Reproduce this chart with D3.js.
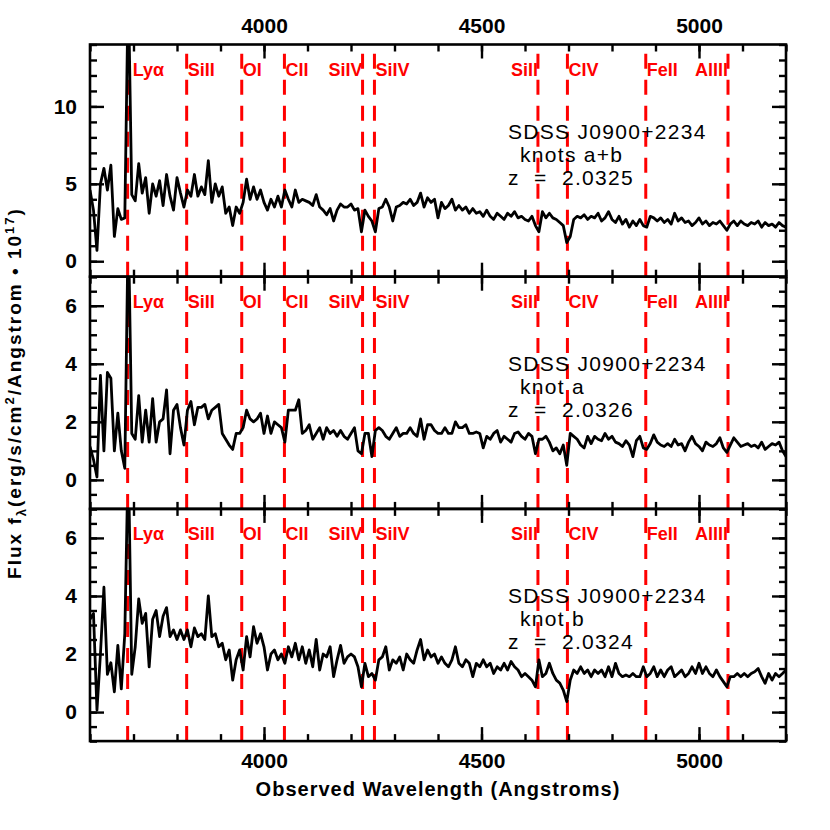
<!DOCTYPE html>
<html>
<head>
<meta charset="utf-8">
<script src="https://cdn.jsdelivr.net/npm/d3@7"></script>
<style>
  body { margin: 0; background: #fff; }
  text { font-family: "Liberation Sans", Arial, sans-serif; }
</style>
</head>
<body>
<svg id="chart" width="830" height="830"></svg>
<script>
// spectra sampled every 8 Angstrom starting at 3600
const waveStart = 3600;
const waveStep = 8;

const fluxAB = [4.6,3.3,0.7,5.0,6.0,4.6,6.2,1.6,3.4,2.7,2.8,18,4.3,3.9,6.3,4.4,5.4,3.1,5.0,4.2,
  5.2,3.6,5.6,4.2,3.3,5.4,4.4,3.5,4.6,4.2,5.6,4.2,4.8,4.3,6.5,3.8,5.0,4.2,4.8,3.1,
  3.5,2.3,3.5,3.1,3.8,5.3,4.0,4.8,4.0,4.6,3.8,3.3,4.0,3.5,4.2,3.5,4.6,4.0,3.5,4.6,
  3.8,4.0,3.9,3.8,3.6,4.3,3.5,3.3,3.0,3.4,2.6,3.3,3.7,3.5,3.5,3.7,3.3,3.4,1.9,3.3,
  2.9,2.6,1.9,3.4,3.5,4.0,3.5,2.6,3.5,3.6,3.8,3.7,4.0,3.6,3.8,4.4,3.5,4.1,3.8,4.0,
  2.8,3.8,3.4,3.6,4.0,3.3,3.6,3.3,3.5,3.1,3.4,3.1,3.2,2.9,3.3,2.9,2.7,3.1,2.9,2.7,
  3.1,2.9,3.2,2.8,2.9,2.7,2.6,2.9,2.3,1.9,3.2,2.8,3.1,2.8,2.7,2.5,2.3,1.2,1.6,2.7,
  2.9,2.8,3.0,2.7,2.9,2.8,3.1,2.6,2.8,3.2,2.7,2.5,2.9,2.4,2.7,2.2,2.6,2.3,2.7,2.3,
  2.2,2.9,2.8,2.6,2.8,2.5,2.7,2.4,3.1,2.6,2.8,2.5,2.6,2.3,2.5,2.8,2.4,2.6,2.3,2.5,
  2.4,2.6,2.3,2.0,2.4,2.6,2.3,2.6,2.4,2.3,2.5,2.4,2.6,2.2,2.5,2.3,2.4,2.2,2.5,2.3,2.2];

const fluxA = [1.15,0.7,0.1,3.6,1.0,3.7,3.5,1.0,2.3,1.0,0.4,9,1.6,1.4,2.9,1.3,2.4,1.3,2.8,1.3,
  2.0,2.1,3.1,0.9,2.4,2.6,1.8,1.2,2.4,2.7,1.9,2.5,2.5,2.6,2.1,2.4,2.5,2.6,1.6,1.4,
  1.2,1.05,1.6,1.6,1.8,2.4,2.1,2.0,2.1,2.3,1.6,2.2,1.6,2.0,1.9,1.8,1.3,2.4,2.4,2.4,
  2.76,1.6,1.7,1.9,1.4,1.6,1.8,1.4,1.8,1.6,1.7,1.5,1.7,1.5,1.4,1.6,1.8,1.0,0.9,1.6,
  1.6,0.8,1.7,1.8,1.7,1.5,1.4,1.6,1.8,1.5,1.6,1.6,1.8,1.6,1.5,2.1,1.4,1.9,1.9,1.7,
  1.6,1.6,1.8,1.6,1.6,2.0,1.8,1.8,1.9,1.6,1.6,1.65,1.6,1.1,1.5,1.4,1.6,1.7,1.3,1.5,
  1.4,1.3,1.6,1.65,1.5,1.4,1.6,1.5,0.9,1.4,1.4,1.5,1.3,1.0,1.1,0.9,1.2,0.5,1.6,1.5,
  1.4,1.2,1.1,1.5,1.25,1.5,1.4,1.35,1.6,1.4,1.5,1.3,1.25,1.15,1.35,1.2,0.8,1.35,1.5,1.1,
  1.05,1.25,1.55,1.3,1.2,1.15,1.25,1.15,1.4,1.2,1.25,1.0,1.3,1.5,1.25,1.15,1.0,1.3,1.2,1.15,
  1.25,1.45,1.1,0.95,1.2,1.45,1.3,1.15,1.2,1.25,1.15,1.2,1.1,1.3,1.05,1.15,1.25,1.2,1.3,1.0,0.8];

const fluxB = [3.2,3.4,0.07,2.0,4.3,1.3,1.7,0.7,2.3,0.8,2.7,9,1.3,2.25,3.9,3.06,3.4,1.56,3.2,3.5,
  2.6,3.3,3.6,2.6,2.83,2.5,2.83,2.5,2.83,2.25,2.9,2.6,2.7,2.5,4.0,2.6,2.7,2.25,2.37,1.8,
  2.14,1.1,1.8,2.14,1.45,2.6,1.9,2.94,2.37,2.7,2.25,1.45,2.0,2.14,1.8,2.0,1.68,2.25,1.9,2.37,
  1.8,2.25,1.68,2.14,1.56,2.5,1.45,2.0,1.9,2.25,1.22,1.8,2.3,1.68,1.9,2.0,1.9,1.56,0.87,1.68,
  1.22,1.33,1.1,1.8,1.9,2.25,1.45,1.8,1.68,1.9,1.45,2.0,1.8,1.68,2.14,2.5,1.8,2.14,1.9,2.0,
  1.68,1.9,1.68,1.56,1.8,2.25,1.68,1.56,1.8,1.68,1.22,1.68,1.56,1.8,1.56,1.68,1.33,1.56,1.45,1.68,
  1.45,1.74,1.56,1.45,1.22,1.33,1.22,1.1,0.87,1.8,1.22,1.33,1.68,1.33,1.1,1.0,0.76,0.36,1.1,1.45,
  1.33,1.56,1.33,1.45,1.22,1.45,1.33,1.45,1.22,1.56,1.22,1.68,1.33,1.22,1.28,1.22,1.33,1.22,1.22,1.56,
  1.22,1.33,1.56,1.22,1.45,1.22,1.45,1.56,1.22,1.33,1.45,1.22,1.33,1.56,1.33,1.68,1.33,1.56,1.33,1.22,
  1.45,1.22,1.05,0.87,1.22,1.22,1.33,1.22,1.33,1.22,1.33,1.39,1.5,1.22,0.99,1.33,1.1,1.33,1.22,1.33,1.45];

// emission / absorption lines (rest frame) marked at z = 2.0325
const lineNames = ["Lyα", "SiII", "OI", "CII", "SiIV", "SiIV", "SiII", "CIV", "FeII", "AlIII"];
const lineRest = [1215.67, 1260.42, 1302.17, 1334.53, 1393.76, 1402.77, 1526.71, 1549.06, 1608.45, 1670.79];
const lineZ = 2.0325;

const panelNames = ["knots a+b", "knot a", "knot b"];
const panelZ = ["2.0325", "2.0326", "2.0324"];
const panelYDomain = [[-1, 14], [-1, 7], [-1, 7]];
const panelYMajor = [[0, 5, 10], [0, 2, 4, 6], [0, 2, 4, 6]];
const panelYMinorStep = [1, 0.5, 0.5];
const panelFlux = [fluxAB, fluxA, fluxB];

const xMajor = [4000, 4500, 5000];
const xMinor = d3.range(3600, 5201, 100);

// layout
const left = 90, right = 786, top0 = 44.5, panelH = 232.2;
const labelAlign = ["start", "start", "start", "start", "end", "start", "end", "start", "start", "end"];
const labelDx = [5, 1, 1, 1, 0, 1, 0, 1, 1, 0];

const svg = d3.select("#chart");
const x = d3.scaleLinear().domain([3600, 5200]).range([left, right]);

function styleAxis(g) {
  g.attr("font-family", null).attr("font-size", null);
  g.select(".domain").remove();
  g.selectAll("line").attr("stroke", "#000").attr("stroke-width", 2.4);
  g.selectAll("text").attr("fill", "#000").style("font-size", "21px").style("font-weight", "bold");
}

panelFlux.forEach((flux, p) => {
  const y0 = top0 + p * panelH;
  const y1 = y0 + panelH;
  const y = d3.scaleLinear().domain(panelYDomain[p]).range([y1, y0]);
  const yMinor = d3.range(panelYDomain[p][0], panelYDomain[p][1] + 1e-9, panelYMinorStep[p]);
  const g = svg.append("g");

  svg.append("clipPath").attr("id", "clip" + p)
    .append("rect").attr("x", left).attr("y", y0).attr("width", right - left).attr("height", panelH);

  const plot = g.append("g").attr("clip-path", `url(#clip${p})`);

  // red dashed line markers
  lineRest.forEach((rest, i) => {
    const lx = x(rest * (1 + lineZ));
    plot.append("line")
      .attr("x1", lx).attr("x2", lx).attr("y1", y1).attr("y2", y0)
      .attr("stroke", "#ff0000").attr("stroke-width", 3)
      .attr("stroke-dasharray", "15,11");
    g.append("text")
      .attr("x", lx + (labelAlign[i] === "start" ? labelDx[i] : -labelDx[i]))
      .attr("y", y0 + 31)
      .attr("text-anchor", labelAlign[i])
      .attr("fill", "#ff0000")
      .style("font-size", "18px").style("font-weight", "bold")
      .text(lineNames[i]);
  });

  // spectrum
  const line = d3.line()
    .x((d, i) => x(waveStart + i * waveStep))
    .y(d => y(d));
  plot.append("path")
    .datum(flux)
    .attr("d", line)
    .attr("fill", "none")
    .attr("stroke", "#000")
    .attr("stroke-width", 2.8)
    .attr("stroke-linejoin", "round");

  // axes: ticks on all four sides, pointing inward
  g.append("g").attr("transform", `translate(0,${y1})`)
    .call(d3.axisBottom(x).tickValues(xMinor).tickSize(-7).tickFormat(""))
    .call(styleAxis);
  g.append("g").attr("transform", `translate(0,${y1})`)
    .call(d3.axisBottom(x).tickValues(xMajor).tickSize(-14).tickPadding(12)
      .tickFormat(p === 2 ? d3.format("d") : ""))
    .call(styleAxis);
  g.append("g").attr("transform", `translate(0,${y0})`)
    .call(d3.axisTop(x).tickValues(xMinor).tickSize(-7).tickFormat(""))
    .call(styleAxis);
  g.append("g").attr("transform", `translate(0,${y0})`)
    .call(d3.axisTop(x).tickValues(xMajor).tickSize(-14).tickPadding(11.5)
      .tickFormat(p === 0 ? d3.format("d") : ""))
    .call(styleAxis);

  g.append("g").attr("transform", `translate(${left},0)`)
    .call(d3.axisLeft(y).tickValues(yMinor).tickSize(-7).tickFormat(""))
    .call(styleAxis);
  g.append("g").attr("transform", `translate(${left},0)`)
    .call(d3.axisLeft(y).tickValues(panelYMajor[p]).tickSize(-14).tickPadding(13).tickFormat(d3.format("d")))
    .call(styleAxis);
  g.append("g").attr("transform", `translate(${right},0)`)
    .call(d3.axisRight(y).tickValues(yMinor).tickSize(-7).tickFormat(""))
    .call(styleAxis);
  g.append("g").attr("transform", `translate(${right},0)`)
    .call(d3.axisRight(y).tickValues(panelYMajor[p]).tickSize(-14).tickFormat(""))
    .call(styleAxis);

  // frame
  g.append("rect")
    .attr("x", left).attr("y", y0).attr("width", right - left).attr("height", panelH)
    .attr("fill", "none").attr("stroke", "#000").attr("stroke-width", 2.6);

  // object labels
  const info = g.append("g").style("font-size", "21px").attr("fill", "#000")
    .style("letter-spacing", "1.3px");
  info.append("text").attr("x", 508).attr("y", y0 + 94).text("SDSS J0900+2234");
  info.append("text").attr("x", 520).attr("y", y0 + 117).text(panelNames[p]);
  info.append("text").attr("x", 508).attr("y", y0 + 140.5)
    .attr("xml:space", "preserve")
    .text("z\u00a0\u00a0=\u00a0\u00a0" + panelZ[p]);
});

// axis titles
svg.append("text")
  .attr("x", (left + right) / 2).attr("y", 796)
  .attr("text-anchor", "middle")
  .style("font-size", "20px").style("font-weight", "bold").style("letter-spacing", "1px")
  .text("Observed Wavelength (Angstroms)");

const yt = svg.append("text")
  .attr("transform", "translate(21,393) rotate(-90)")
  .attr("text-anchor", "middle")
  .style("font-size", "19px").style("font-weight", "bold").style("letter-spacing", "2px");
yt.append("tspan").text("Flux  f");
yt.append("tspan").attr("dy", 5).style("font-size", "13px").text("λ");
yt.append("tspan").attr("dy", -5).text("(erg/s/cm");
yt.append("tspan").attr("dy", -7).style("font-size", "13px").text("2");
yt.append("tspan").attr("dy", 7).text("/Angstrom • 10");
yt.append("tspan").attr("dy", -7).style("font-size", "13px").text("17");
yt.append("tspan").attr("dy", 7).text(")");
</script>
</body>
</html>
